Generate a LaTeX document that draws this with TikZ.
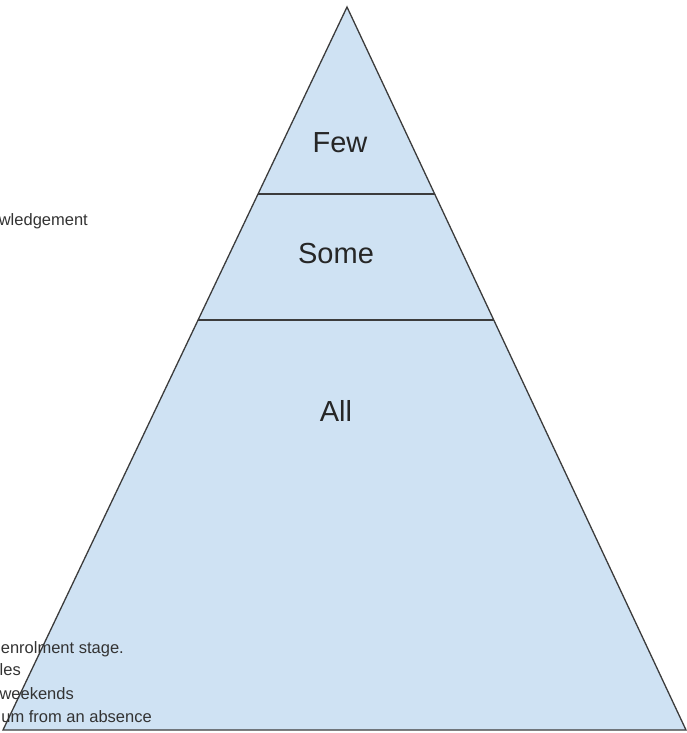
\documentclass[tikz,border=0pt]{standalone}
\usepackage{fontspec}
\setmainfont{Liberation Sans}
\usetikzlibrary{calc}

\definecolor{tierfill}{HTML}{CFE2F3}
\definecolor{tierline}{HTML}{3C3C3C}
\definecolor{notetext}{HTML}{333333}

\begin{document}
\begin{tikzpicture}[x=1pt, y=-1pt,
    tier/.style = {fill=tierfill, draw=tierline, line width=1.3pt, line join=miter},
    divider/.style = {draw=tierline, line width=1.1pt},
    level/.style = {font=\fontsize{29}{33}\selectfont, text=black!85, inner sep=0pt},
    note/.style = {font=\fontsize{16.5}{19}\selectfont, text=notetext, inner sep=0pt, anchor=base east}]
        \useasboundingbox (0,0) rectangle (686,733);

        \coordinate (top) at (347,7);
        \coordinate (bl) at (3,730);
        \coordinate (br) at (686,730);

        \draw[tier] (top) -- (bl) -- (br) -- cycle;

        % the two dividing lines
        \coordinate (d1l) at ($(top)!0.2586!(bl)$);
        \coordinate (d1r) at ($(top)!0.2586!(br)$);
        \coordinate (d2l) at ($(top)!0.4329!(bl)$);
        \coordinate (d2r) at ($(top)!0.4329!(br)$);
        \draw[divider] (d1l) -- (d1r);
        \draw[divider] (d2l) -- (d2r);

        \node[level] (few) at (340,143) {Few};
        \node[level] (some) at (336,254) {Some};
        \node[level] (all) at (336,411) {All};

        % notes cut off at the left edge
        \node[note] (ack) at (88,225) {wledgement};
        \node[note] (enrol) at (124,653) {enrolment stage.};
        \node[note] (les) at (21,675) {les};
        \node[note] (wknd) at (74,699) {weekends};
        \node[note] (absence) at (152,722) {um from an absence};
\end{tikzpicture}
\end{document}
